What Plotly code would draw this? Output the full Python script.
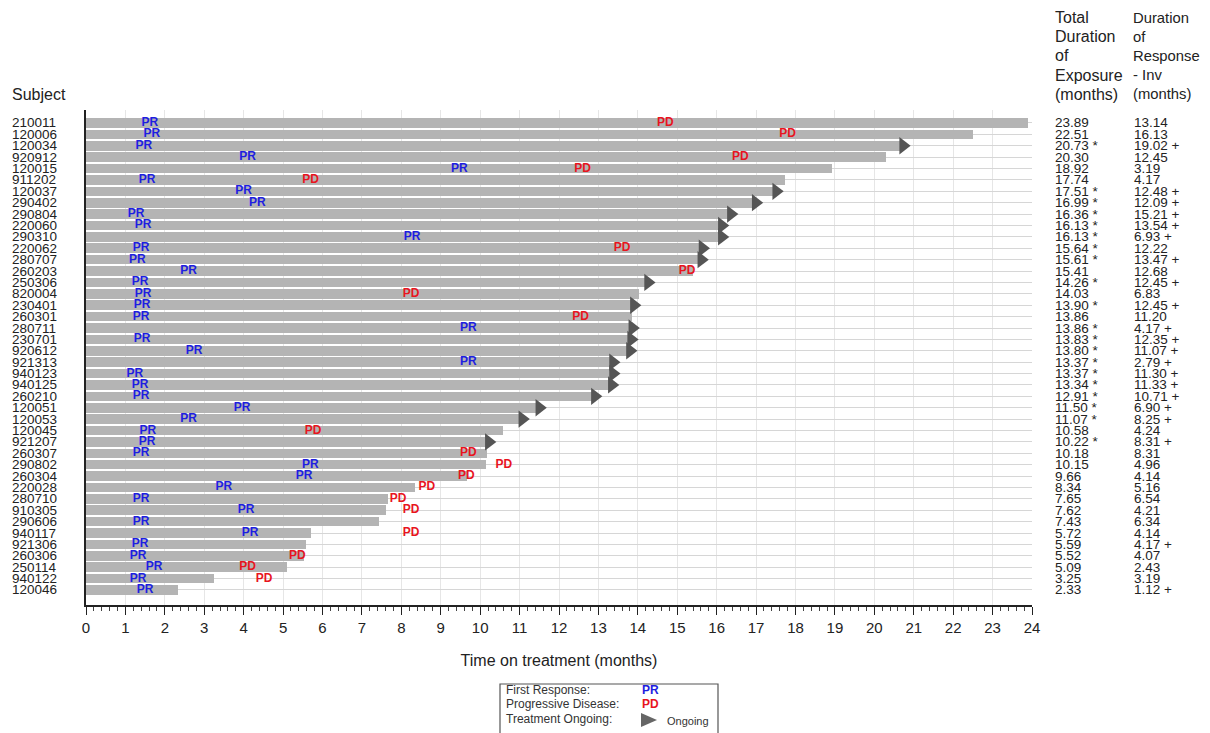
import plotly.graph_objects as go

subjects = ["210011", "120006", "120034", "920912", "120015", "911202", "120037", "290402",
            "290804", "220060", "290310", "220062", "280707", "260203", "250306", "820004",
            "230401", "260301", "280711", "230701", "920612", "921313", "940123", "940125",
            "260210", "120051", "120053", "120045", "921207", "260307", "290802", "260304",
            "220028", "280710", "910305", "290606", "940117", "921306", "260306", "250114",
            "940122", "120046"]

total_exposure = [23.89, 22.51, 20.73, 20.30, 18.92, 17.74, 17.51, 16.99, 16.36, 16.13, 16.13,
                  15.64, 15.61, 15.41, 14.26, 14.03, 13.90, 13.86, 13.86, 13.83, 13.80, 13.37,
                  13.37, 13.34, 12.91, 11.50, 11.07, 10.58, 10.22, 10.18, 10.15, 9.66, 8.34,
                  7.65, 7.62, 7.43, 5.72, 5.59, 5.52, 5.09, 3.25, 2.33]

ongoing = [0, 0, 1, 0, 0, 0, 1, 1, 1, 1, 1, 1, 1, 0, 1, 0, 1, 0, 1, 1, 1, 1, 1, 1, 1, 1, 1,
           0, 1, 0, 0, 0, 0, 0, 0, 0, 0, 0, 0, 0, 0, 0]

duration_response = [13.14, 16.13, 19.02, 12.45, 3.19, 4.17, 12.48, 12.09, 15.21, 13.54, 6.93,
                     12.22, 13.47, 12.68, 12.45, 6.83, 12.45, 11.20, 4.17, 12.35, 11.07, 2.79,
                     11.30, 11.33, 10.71, 6.90, 8.25, 4.24, 8.31, 8.31, 4.96, 4.14, 5.16, 6.54,
                     4.21, 6.34, 4.14, 4.17, 4.07, 2.43, 3.19, 1.12]

response_censored = [0, 0, 1, 0, 0, 0, 1, 1, 1, 1, 1, 0, 1, 0, 1, 0, 1, 0, 1, 1, 1, 1, 1, 1,
                     1, 1, 1, 0, 1, 0, 0, 0, 0, 0, 0, 0, 0, 1, 0, 0, 0, 1]

pr_time = [1.62, 1.67, 1.47, 4.10, 9.47, 1.55, 4.00, 4.35, 1.27, 1.45, 8.27, 1.40, 1.30, 2.60,
           1.37, 1.45, 1.42, 1.40, 9.70, 1.42, 2.74, 9.70, 1.24, 1.37, 1.40, 3.96, 2.60, 1.57,
           1.55, 1.40, 5.69, 5.53, 3.50, 1.40, 4.06, 1.40, 4.16, 1.37, 1.32, 1.73, 1.32, 1.50]

pd_time = [14.70, 17.80, None, 16.60, 12.60, 5.70, None, None, None, None, None, 13.60, None,
           15.25, None, 8.25, None, 12.55, None, None, None, None, None, None, None, None, None,
           5.76, None, 9.70, 10.60, 9.65, 8.65, 7.92, 8.25, None, 8.25, None, 5.36, 4.10, 4.52,
           None]

x_ticks = list(range(0, 25))

FONT = "Liberation Sans, Arial, sans-serif"
OFF = 8                      # page body margin
SCR_W, SCR_H = 1210, 733
W, H = SCR_W - OFF, SCR_H - OFF
L, R, T, B = 86, 1032, 110, 605   # plot area in screen pixels


def px(xp):
    return (xp - L) / (R - L)


def py(yp):
    return (B - yp) / (B - T)


rows = list(range(len(subjects)))

fig = go.Figure()

fig.add_trace(go.Bar(
    y=rows, x=total_exposure, base=0, orientation="h", width=0.84,
    marker=dict(color="#b4b4b4", line=dict(width=0)), hoverinfo="skip", showlegend=False))

pr_rows = [r for r in rows if pr_time[r] is not None]
fig.add_trace(go.Scatter(
    x=[pr_time[r] for r in pr_rows], y=pr_rows, mode="text", text=["<b>PR</b>"] * len(pr_rows),
    textfont=dict(color="#1e1ee0", size=12, family=FONT), textposition="middle center",
    showlegend=False, hoverinfo="skip", cliponaxis=False))

pd_rows = [r for r in rows if pd_time[r] is not None]
fig.add_trace(go.Scatter(
    x=[pd_time[r] for r in pd_rows], y=pd_rows, mode="text", text=["<b>PD</b>"] * len(pd_rows),
    textfont=dict(color="#e8141e", size=12, family=FONT), textposition="middle center",
    showlegend=False, hoverinfo="skip", cliponaxis=False))

on_rows = [r for r in rows if ongoing[r]]
fig.add_trace(go.Scatter(
    x=[total_exposure[r] for r in on_rows], y=on_rows, mode="markers",
    marker=dict(symbol="triangle-right", size=15, color="#555555", line=dict(width=0)),
    showlegend=False, hoverinfo="skip", cliponaxis=False))

annotations = []
for r in rows:
    annotations.append(dict(x=px(10), y=r, xref="paper", yref="y", text=subjects[r],
                            showarrow=False, xanchor="left", yanchor="middle",
                            font=dict(size=13.5, color="#222222", family=FONT)))
    t = f"{total_exposure[r]:.2f}" + (" *" if ongoing[r] else "")
    annotations.append(dict(x=px(1053), y=r, xref="paper", yref="y", text=t,
                            showarrow=False, xanchor="left", yanchor="middle",
                            font=dict(size=13.5, color="#222222", family=FONT)))
    d = f"{duration_response[r]:.2f}" + (" +" if response_censored[r] else "")
    annotations.append(dict(x=px(1132), y=r, xref="paper", yref="y", text=d,
                            showarrow=False, xanchor="left", yanchor="middle",
                            font=dict(size=13.5, color="#222222", family=FONT)))

hdr1 = ["Total", "Duration", "of", "Exposure", "(months)"]
hdr2 = ["Duration", "of", "Response", "- Inv", "(months)"]
for i, (a, b) in enumerate(zip(hdr1, hdr2)):
    yy = 18 + i * 19
    annotations.append(dict(x=px(1053), y=py(yy), xref="paper", yref="paper", text=a,
                            showarrow=False, xanchor="left", yanchor="middle",
                            font=dict(size=16, color="#222222", family=FONT)))
    annotations.append(dict(x=px(1131), y=py(yy), xref="paper", yref="paper", text=b,
                            showarrow=False, xanchor="left", yanchor="middle",
                            font=dict(size=14.8, color="#222222", family=FONT)))
annotations.append(dict(x=px(10), y=py(94), xref="paper", yref="paper", text="Subject",
                        showarrow=False, xanchor="left", yanchor="middle",
                        font=dict(size=16, color="#222222", family=FONT)))

# legend box
leg_lines = [("First Response:", "<b>PR</b>", "#1e1ee0", 690),
             ("Progressive Disease:", "<b>PD</b>", "#e8141e", 704),
             ("Treatment Ongoing:", None, None, 719)]
for lab, sym, col, yy in leg_lines:
    annotations.append(dict(x=px(504), y=py(yy), xref="paper", yref="paper", text=lab,
                            showarrow=False, xanchor="left", yanchor="middle",
                            font=dict(size=12, color="#333333", family=FONT)))
    if sym:
        annotations.append(dict(x=px(640), y=py(yy), xref="paper", yref="paper", text=sym,
                                showarrow=False, xanchor="left", yanchor="middle",
                                font=dict(size=12, color=col, family=FONT)))
annotations.append(dict(x=px(665), y=py(721), xref="paper", yref="paper", text="Ongoing",
                        showarrow=False, xanchor="left", yanchor="middle",
                        font=dict(size=11, color="#333333", family=FONT)))

shapes = [
    dict(type="rect", xref="paper", yref="paper", x0=px(500), x1=px(718), y0=py(745), y1=py(684),
         line=dict(color="#555555", width=1.2), fillcolor="rgba(0,0,0,0)"),
    dict(type="path", xref="paper", yref="paper",
         path=f"M {px(641)} {py(713)} L {px(657)} {py(720)} L {px(641)} {py(727)} Z",
         fillcolor="#666666", line=dict(width=0)),
]

fig.update_layout(
    width=W, height=H,
    margin=dict(l=L - OFF, r=SCR_W - R, t=T - OFF, b=(OFF + H) - B, pad=0),
    paper_bgcolor="white", plot_bgcolor="white",
    bargap=0, showlegend=False,
    annotations=annotations, shapes=shapes,
    font=dict(family=FONT, color="#222222"),
    xaxis=dict(range=[0, 24], tickvals=x_ticks, ticktext=[str(v) for v in x_ticks],
               ticks="outside", ticklen=8, tickwidth=1.2, tickcolor="#222222",
               showline=True, linecolor="#222222", linewidth=1.5,
               showgrid=True, gridcolor="#e6e6e6", gridwidth=1, zeroline=False,
               tickfont=dict(size=15, color="#222222", family=FONT),
               minor=dict(dtick=0.2, ticks="outside", ticklen=4, tickcolor="#444444",
                          showgrid=False),
               title=dict(text="Time on treatment (months)", standoff=20,
                          font=dict(size=16, color="#222222", family=FONT))),
    yaxis=dict(range=[41 + 1.32, -1.14], tickvals=rows, showticklabels=False, ticks="",
               showgrid=True, gridcolor="#d6d6d6", gridwidth=1.3, zeroline=False,
               showline=True, linecolor="#222222", linewidth=2),
)

fig.write_html("out.html")
